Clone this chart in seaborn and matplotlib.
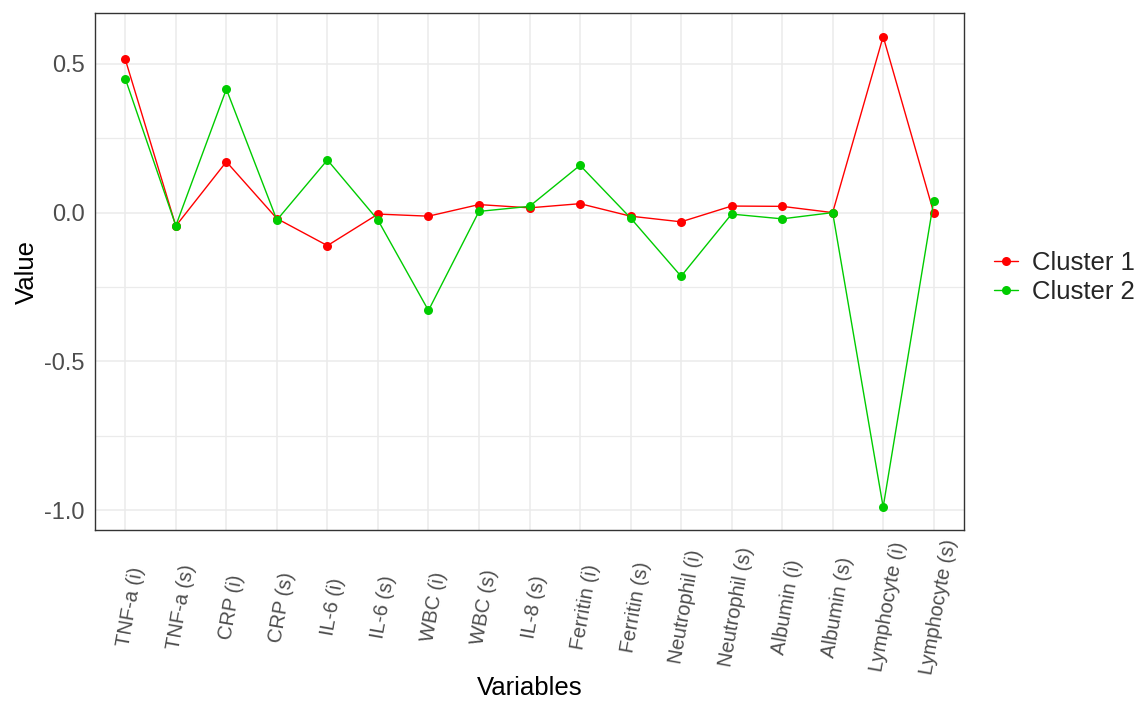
import numpy as np
import pandas as pd
import matplotlib
matplotlib.use("Agg")
import matplotlib.pyplot as plt
import matplotlib.transforms as mtransforms
from matplotlib.ticker import MultipleLocator
import seaborn as sns

variables = ["TNF-a (i)", "TNF-a (s)", "CRP (i)", "CRP (s)", "IL-6 (i)", "IL-6 (s)",
             "WBC (i)", "WBC (s)", "IL-8 (s)", "Ferritin (i)", "Ferritin (s)",
             "Neutrophil (i)", "Neutrophil (s)", "Albumin (i)", "Albumin (s)",
             "Lymphocyte (i)", "Lymphocyte (s)"]
cluster1 = [0.515, -0.045, 0.171, -0.020, -0.111, -0.005, -0.012, 0.027, 0.016,
            0.030, -0.012, -0.031, 0.022, 0.021, 0.000, 0.592, 0.000]
cluster2 = [0.450, -0.044, 0.415, -0.025, 0.177, -0.025, -0.329, 0.004, 0.021,
            0.159, -0.018, -0.214, -0.005, -0.021, 0.000, -0.990, 0.039]
series_names = ["Cluster 1", "Cluster 2"]
series_colors = ["#FF0000", "#00CC00"]

df = pd.DataFrame({
    "Variables": variables * 2,
    "Value": cluster1 + cluster2,
    "Cluster": [series_names[0]] * len(variables) + [series_names[1]] * len(variables),
})

sns.set_theme(style="whitegrid")
plt.rcParams["font.family"] = ["Liberation Sans", "DejaVu Sans"]

fig = plt.figure(figsize=(11.48, 7.06), dpi=100)
W, H = 1148, 706
L, R, T, B = 95, 964, 13, 530
ax = fig.add_axes([L / W, 1 - B / H, (R - L) / W, (B - T) / H])

sns.lineplot(data=df, x="Variables", y="Value", hue="Cluster", palette=series_colors,
             marker="o", markersize=6.5, markeredgewidth=0, linewidth=1.0,
             sort=False, ax=ax)

ax.set_xlim(-0.6, len(variables) - 1 + 0.6)
ax.set_ylim(-1.067, 0.671)
ax.yaxis.set_major_locator(MultipleLocator(0.5))
ax.yaxis.set_minor_locator(MultipleLocator(0.25))
ax.set_yticks([0.5, 0.0, -0.5, -1.0])
ax.set_yticklabels(["0.5", "0.0", "-0.5", "-1.0"])

ax.grid(which="major", color="#EBEBEB", linewidth=1.1)
ax.grid(which="minor", axis="y", color="#EBEBEB", linewidth=0.9)
ax.set_axisbelow(True)
for s in ax.spines.values():
    s.set_visible(True)
    s.set_color("#333333")
    s.set_linewidth(1.0)

ax.tick_params(axis="both", which="major", length=4.5, width=1, color="#333333",
               direction="out", labelcolor="#4D4D4D")
ax.tick_params(axis="y", which="minor", length=0)
ax.tick_params(axis="y", labelsize=17, pad=3)
ax.tick_params(axis="x", labelsize=14.5, pad=51)

for lbl in ax.get_xticklabels():
    lbl.set_rotation(80)
    lbl.set_ha("center")
    lbl.set_va("center")
    lbl.set_rotation_mode("anchor")
    lbl.set_transform(lbl.get_transform() + mtransforms.ScaledTranslation(0.05, 0, fig.dpi_scale_trans))

ax.set_xlabel("Variables", fontsize=18.5, color="black")
ax.set_ylabel("Value", fontsize=18.5, color="black")
ax.xaxis.set_label_coords(0.5, -0.282)
ax.yaxis.set_label_coords(-0.065, 0.5)

handles, labels = ax.get_legend_handles_labels()
ax.legend(handles=handles, labels=labels, loc="center left", bbox_to_anchor=(1.023, 0.488),
          frameon=False, fontsize=18.5, handlelength=0.93, handletextpad=0.55,
          labelspacing=0.2, borderaxespad=0)

fig.savefig("out.png", dpi=100)
